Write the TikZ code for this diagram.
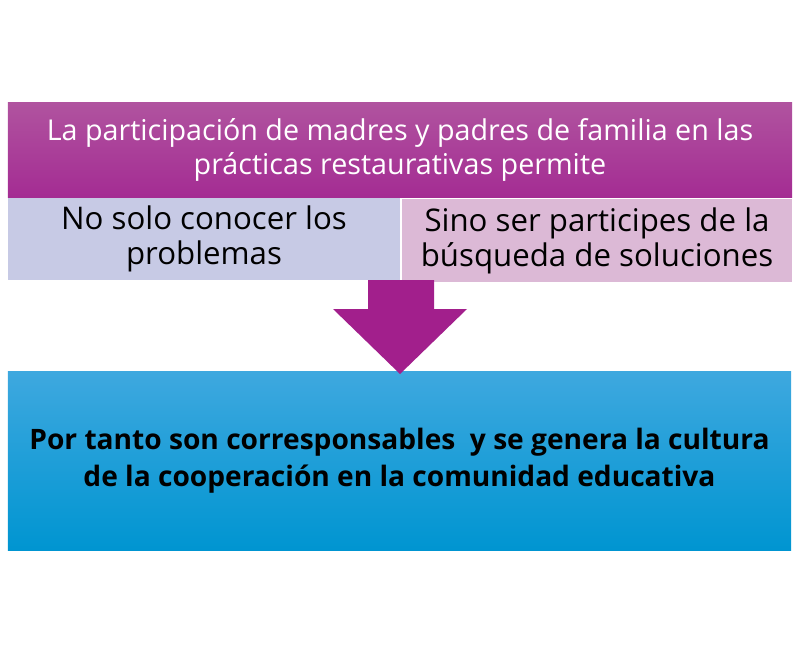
\documentclass[tikz,border=0pt]{standalone}
\usepackage{fontspec}
\setmainfont{Open Sans}
\usetikzlibrary{positioning}
\definecolor{moradoA}{HTML}{B0539F}
\definecolor{moradoB}{HTML}{A42C93}
\definecolor{lila}{HTML}{C7CAE5}
\definecolor{rosa}{HTML}{DCB9D6}
\definecolor{flecha}{HTML}{A21F8C}
\definecolor{azulA}{HTML}{3EA8DF}
\definecolor{azulB}{HTML}{0095D1}
\tikzset{
  caja/.style={inner sep=0pt, align=center},
  titulo/.style={caja, top color=moradoA, bottom color=moradoB, text=white,
    minimum width=19.6cm, minimum height=2.35cm,
    font=\fontsize{20.4}{24.1}\selectfont},
  mitad/.style={caja, text=black, minimum height=2.05cm,
    font=\fontsize{22.2}{24.8}\selectfont},
  final/.style={caja, top color=azulA, bottom color=azulB, text=black,
    minimum width=19.575cm, minimum height=4.45cm,
    font=\fontsize{20}{26.2}\selectfont\bfseries}
}
\begin{document}
\begin{tikzpicture}[x=0.025cm, y=-0.025cm]
  \useasboundingbox (0,0) rectangle (800,650);
  % bloque superior
  \node[titulo] (permite) at (400,150)
    {La participación de madres y padres de familia en las\\prácticas restaurativas permite};
  \node[mitad, fill=lila, minimum width=9.8cm] (conocer) at (204,239)
    {No solo conocer los\\problemas};
  \node[mitad, fill=rosa, minimum width=9.75cm] (buscar) at (597,240.5)
    {Sino ser participes de la\\búsqueda de soluciones};
  % bloque inferior
  \node[final] (cultura) at (399.5,461)
    {Por tanto son corresponsables \ y se genera la cultura\\de la cooperación en la comunidad educativa};
  % flecha gruesa
  \fill[flecha] (368,280) -- (434,280) -- (434,309) -- (467,309)
    -- (400,374) -- (333,309) -- (368,309) -- cycle;
\end{tikzpicture}
\end{document}
